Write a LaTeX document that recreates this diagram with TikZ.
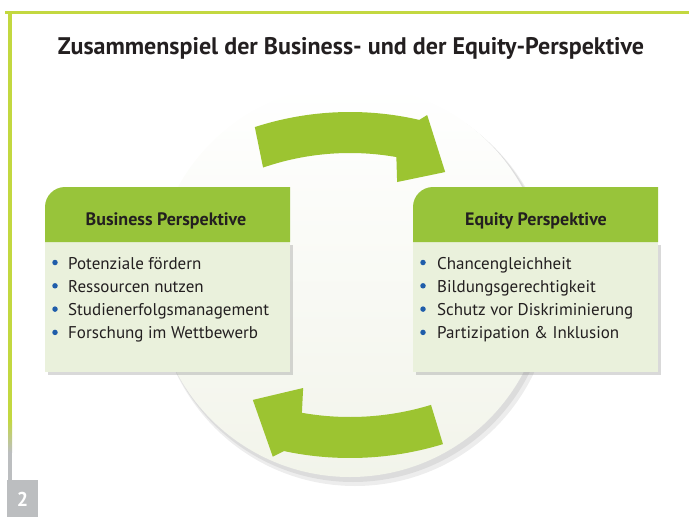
\documentclass[tikz,border=0pt]{standalone}
\usepackage{fontspec}
\setmainfont{PT Sans}
\usetikzlibrary{shadows}
\definecolor{framegreen}{HTML}{C3D840}
\definecolor{arrowgreen}{HTML}{9CC431}
\definecolor{headgreen}{HTML}{98C43A}
\definecolor{bodygreen}{HTML}{EAF1DC}
\definecolor{ringfill}{HTML}{F2F4EA}
\definecolor{pagegray}{HTML}{BCBEC0}
\definecolor{dotblue}{HTML}{1F5DAA}
\definecolor{inktext}{HTML}{231F20}
\tikzset{
  title/.style={font=\fontsize{24}{26}\selectfont\bfseries, text=inktext, anchor=base, inner sep=0pt},
  head/.style={font=\fontsize{18}{20}\selectfont\bfseries, text=inktext, anchor=base, inner sep=0pt},
  item/.style={font=\fontsize{17}{20}\selectfont, text=inktext, anchor=base west, inner sep=0pt},
  dot/.style={circle, fill=dotblue, inner sep=0pt, minimum size=5.5pt},
  boxbody/.style={fill=bodygreen, drop shadow={opacity=.3, shadow xshift=3pt, shadow yshift=-3pt}},
  pagenum/.style={font=\fontsize{20}{20}\selectfont\bfseries, text=white, inner sep=0pt}
}
\begin{document}
\begin{tikzpicture}[x=1pt,y=-1pt]
\useasboundingbox (0,0) rectangle (689,517);
% frame
\fill[framegreen] (5,11) rectangle (689,14);
\fill[framegreen] (8,11) rectangle (12,420);
\shade[top color=framegreen, bottom color=pagegray] (8,420) rectangle (12,452);
\fill[pagegray] (8,452) rectangle (12,480);
\fill[pagegray] (7,480) rectangle (38,517);
\node[pagenum] (num) at (22.5,499) {2};
\node[title] (title) at (351,54) {Zusammenspiel der Business- und der Equity-Perspektive};
% circle
\coordinate (mid) at (350,281);
\fill[black, opacity=.07] (355,288) circle (198);
\fill[black, opacity=.07] (353,285) circle (197);
\shade[top color=white, bottom color=ringfill] (mid) circle (196);
% arrows
\coordinate (topc) at (350,420);
\coordinate (botc) at (350,140);
\fill[arrowgreen, shift={(topc)}] (-108:308) arc[start angle=-108, end angle=-77, radius=308] -- (-75.8:314.6) -- (-69:265.6) -- (-78.8:242.6) -- (-80:267) arc[start angle=-80, end angle=-109, radius=267] -- cycle;
\fill[arrowgreen, shift={(botc)}] (73:318) arc[start angle=73, end angle=102, radius=318] -- (103.7:326) -- (110.5:277.5) -- (100.7:252.4) -- (100:277) arc[start angle=100, end angle=73, radius=277] -- cycle;
% boxes
\foreach \x in {45,413} {
  \fill[boxbody] (\x,242) rectangle (\x+245,372);
  \fill[headgreen] (\x,242) -- (\x,207) arc[start angle=180, end angle=270, radius=20] -- (\x+245,187) -- (\x+245,242) -- cycle;
}
\node[head] (bhead) at (166,225) {Business Perspektive};
\node[head] (ehead) at (536,225) {Equity Perspektive};
\foreach \t [count=\i from 0] in {Potenziale fördern, Ressourcen nutzen, Studienerfolgsmanagement, Forschung im Wettbewerb} {
  \node[dot] (bd\i) at (55,262.5+23.3*\i) {};
  \node[item] (b\i) at (68,269+23.3*\i) {\t};
}
\foreach \t [count=\i from 0] in {Chancengleichheit, Bildungsgerechtigkeit, Schutz vor Diskriminierung, Partizipation \& Inklusion} {
  \node[dot] (ed\i) at (423,262.5+23.3*\i) {};
  \node[item] (e\i) at (437,269+23.3*\i) {\t};
}
\end{tikzpicture}
\end{document}
